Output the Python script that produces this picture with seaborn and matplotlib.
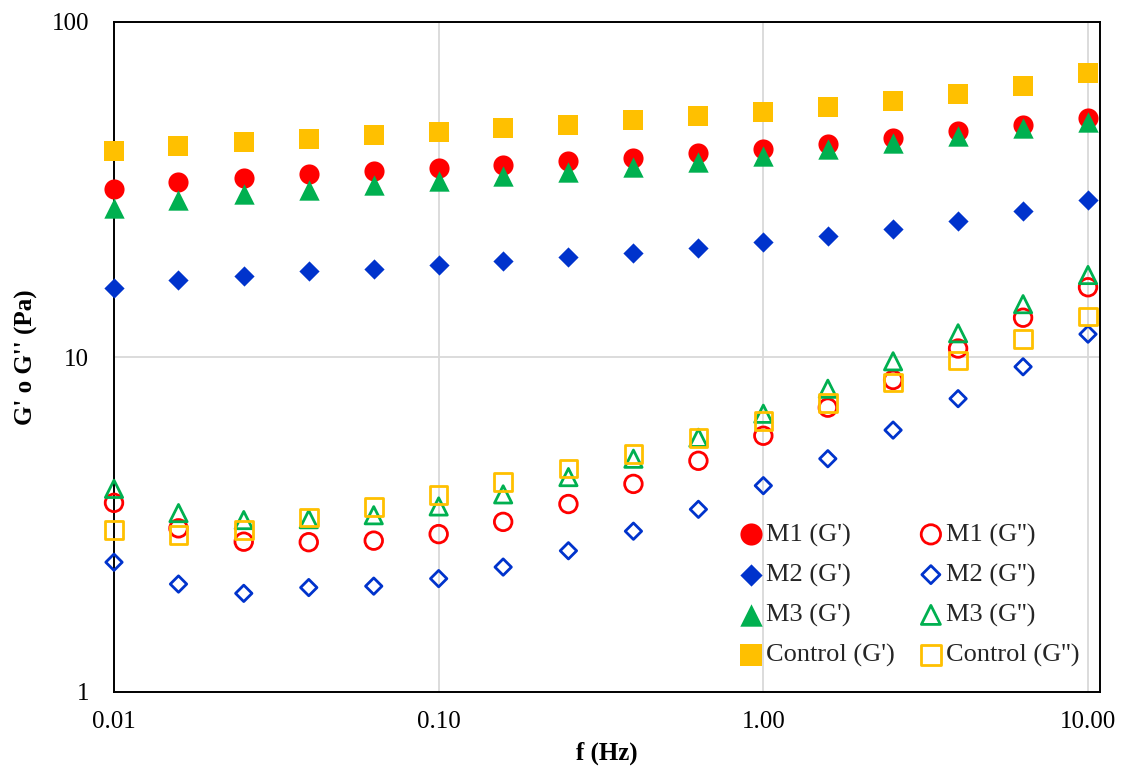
import matplotlib
matplotlib.use("Agg")
import matplotlib.pyplot as plt
import matplotlib.ticker as mticker
import seaborn as sns
import numpy as np

freq = [0.01, 0.0158, 0.0251, 0.0398, 0.0631, 0.1, 0.158, 0.251, 0.398, 0.631,
        1.0, 1.58, 2.51, 3.98, 6.31, 10.0]

m1_gp = [31.7, 33.2, 34.2, 35.1, 35.9, 36.7, 37.5, 38.4, 39.4, 40.6, 41.8, 43.2, 45.1, 47.2, 49.3, 51.7]
m1_gpp = [3.67, 3.08, 2.81, 2.80, 2.83, 2.96, 3.22, 3.64, 4.18, 4.90, 5.82, 7.06, 8.54, 10.6, 13.1, 16.15]
m2_gp = [16.1, 17.0, 17.5, 18.0, 18.3, 18.8, 19.4, 19.9, 20.5, 21.2, 22.0, 22.9, 24.1, 25.4, 27.2, 29.4]
m2_gpp = [2.44, 2.10, 1.97, 2.05, 2.07, 2.18, 2.36, 2.64, 3.02, 3.51, 4.13, 4.97, 6.05, 7.51, 9.35, 11.7]
m3_gp = [27.9, 29.5, 30.6, 31.6, 32.7, 33.6, 34.6, 35.7, 37.0, 38.3, 39.7, 41.7, 43.6, 45.8, 48.1, 50.4]
m3_gpp = [4.04, 3.42, 3.26, 3.28, 3.37, 3.58, 3.89, 4.38, 4.97, 5.74, 6.77, 8.04, 9.71, 11.77, 14.38, 17.57]
ctrl_gp = [41.2, 42.6, 43.7, 44.7, 45.9, 46.9, 48.1, 49.4, 50.9, 52.4, 54.0, 55.9, 58.1, 61.0, 64.4, 70.3]
ctrl_gpp = [3.04, 2.94, 3.04, 3.32, 3.57, 3.87, 4.23, 4.65, 5.13, 5.73, 6.44, 7.30, 8.38, 9.75, 11.3, 13.2]

x_ticks = [0.01, 0.1, 1, 10]
x_tick_labels = ["0.01", "0.10", "1.00", "10.00"]
y_ticks = [1, 10, 100]
y_tick_labels = ["1", "10", "100"]

sns.set_theme(style="white")
plt.rcParams["font.family"] = ["Liberation Serif", "DejaVu Serif"]

fig = plt.figure(figsize=(11.23, 7.76), dpi=100)
ax = fig.add_axes([114 / 1123, 1 - 692 / 776, (1100 - 114) / 1123, (692 - 22) / 776])

RED = "#FF0000"
BLUE = "#0033CC"
GREEN = "#00B050"
GOLD = "#FFC000"

series = [
    ("M1 (G')", m1_gp, "o", RED, True, 210),
    ("M2 (G')", m2_gp, "D", BLUE, True, 106),
    ("M3 (G')", m3_gp, "^", GREEN, True, 215),
    ("Control (G')", ctrl_gp, "s", GOLD, True, 210),
    ("M1 (G'')", m1_gpp, "o", RED, False, 160),
    ("M2 (G'')", m2_gpp, "D", BLUE, False, 70),
    ("M3 (G'')", m3_gpp, "^", GREEN, False, 155),
    ("Control (G'')", ctrl_gpp, "s", GOLD, False, 160),
]

for label, vals, mk, col, filled, size in series:
    if filled:
        sns.scatterplot(x=freq, y=vals, marker=mk, s=size, color=col,
                        linewidth=0, ax=ax, label=label, zorder=3, clip_on=False)
    else:
        sns.scatterplot(x=freq, y=vals, marker=mk, s=size, color=col,
                        facecolor="none", edgecolor=col, linewidth=2.0,
                        ax=ax, label=label, zorder=3, clip_on=False)

ax.set_xscale("log")
ax.set_yscale("log")
ax.set_xlim(0.01, 10 ** (1 + 12 / 324.7))
ax.set_ylim(1, 100)

ax.xaxis.set_major_locator(mticker.FixedLocator(x_ticks))
ax.xaxis.set_major_formatter(mticker.FixedFormatter(x_tick_labels))
ax.yaxis.set_major_locator(mticker.FixedLocator(y_ticks))
ax.yaxis.set_major_formatter(mticker.FixedFormatter(y_tick_labels))
ax.xaxis.set_minor_locator(mticker.NullLocator())
ax.yaxis.set_minor_locator(mticker.NullLocator())

ax.grid(True, which="major", color="#D9D9D9", linewidth=1.3, zorder=0)
ax.set_axisbelow(True)
for sp in ax.spines.values():
    sp.set_color("black")
    sp.set_linewidth(1.4)
    sp.set_zorder(2)

ax.tick_params(axis="both", which="both", length=0, labelsize=18, colors="black")
ax.tick_params(axis="x", pad=14)
ax.tick_params(axis="y", pad=18)

ax.set_xlabel("f (Hz)", fontsize=18, fontweight="bold", labelpad=6, color="black")
ax.set_ylabel("G' o G'' (Pa)", fontsize=18, fontweight="bold", labelpad=10, color="black")

handles, labels = ax.get_legend_handles_labels()
order = ["M1 (G')", "M2 (G')", "M3 (G')", "Control (G')",
         "M1 (G'')", "M2 (G'')", "M3 (G'')", "Control (G'')"]
hmap = dict(zip(labels, handles))
ax.legend([hmap[k] for k in order], order, ncol=2, loc="lower right",
          bbox_to_anchor=(0.998, 0.009), frameon=False, fontsize=19,
          handlelength=0.75, handletextpad=0.2, columnspacing=1.0,
          labelspacing=0.62, borderpad=0.2, markerscale=1.1)

fig.savefig("out.png", dpi=100)
